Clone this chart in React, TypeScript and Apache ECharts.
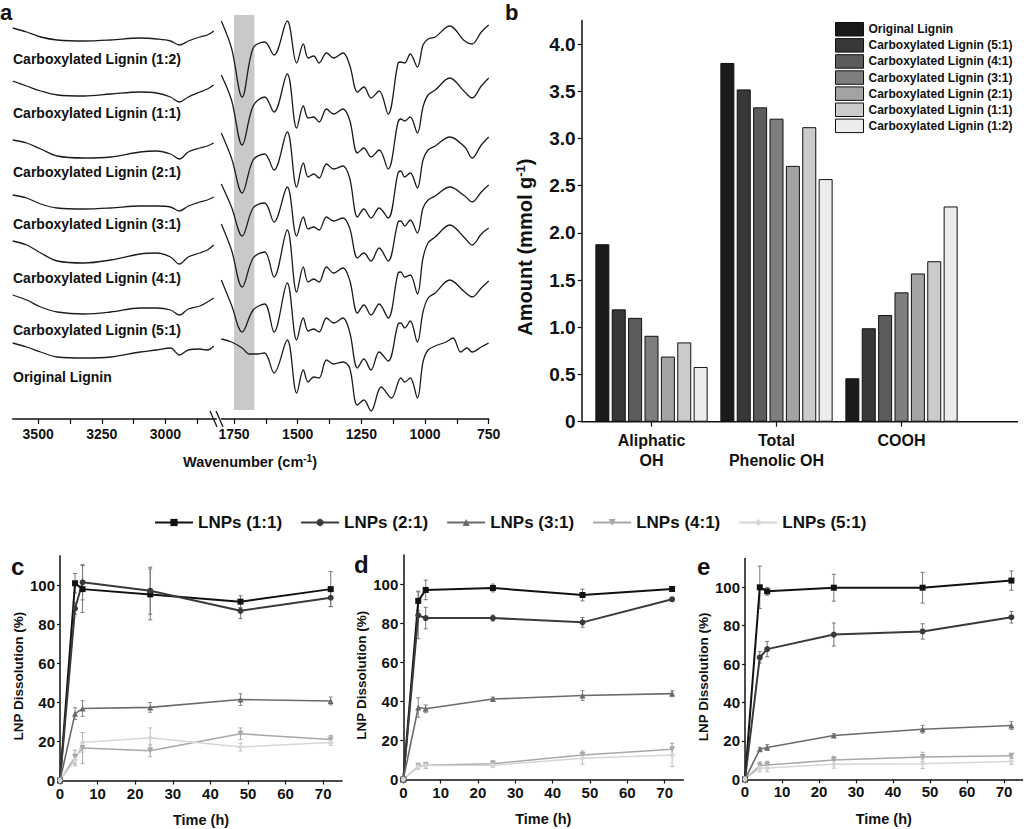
import React, { useEffect, useRef } from 'react';
import * as echarts from 'echarts';

const FONT = '"Liberation Sans", Arial, Helvetica, sans-serif';
const INK = '#111111';

// ---------------- Panel a: FTIR spectra (stacked transmittance, a.u.) ----------------
const leftWavenumbers = [3600, 3545, 3490, 3425, 3320, 3215, 3100, 3035, 2980, 2945, 2910, 2865, 2835, 2810];
const carbWavenumbers = [1800, 1760, 1718, 1675, 1630, 1593, 1541, 1504, 1478, 1459, 1437, 1416, 1387, 1359, 1322, 1296, 1265, 1240, 1212, 1180, 1145, 1106, 1095, 1080, 1058, 1030, 1008, 988, 960, 903, 844, 815, 779, 750];
const origWavenumbers = [1800, 1760, 1718, 1690, 1660, 1630, 1593, 1541, 1504, 1478, 1459, 1437, 1416, 1387, 1359, 1322, 1296, 1266, 1240, 1212, 1172, 1132, 1095, 1080, 1058, 1030, 1008, 988, 960, 918, 890, 860, 835, 815, 779, 750];

const spectrumLabels = [
  'Carboxylated Lignin (1:2)',
  'Carboxylated Lignin (1:1)',
  'Carboxylated Lignin (2:1)',
  'Carboxylated Lignin (3:1)',
  'Carboxylated Lignin (4:1)',
  'Carboxylated Lignin (5:1)',
  'Original Lignin',
];

const cl12Left = [391, 387, 382, 379, 378, 379, 381, 380, 378, 374, 378, 382, 384, 388];
const cl11Left = [338, 333, 328, 324, 323, 325, 327, 326, 322, 317, 322, 327, 330, 334];
const cl21Left = [279, 276, 270, 263, 261, 262, 267, 268, 265, 260, 267, 271, 273, 276];
const cl31Left = [224, 221, 215, 211, 210, 211, 213, 213, 212, 208, 213, 217, 219, 222];
const cl41Left = [178, 174, 166, 158, 156, 159, 165, 166, 162, 155, 162, 166, 169, 174];
const cl51Left = [124, 119, 112, 107, 105, 107, 111, 111, 109, 104, 110, 113, 117, 121];
const origLeft = [76, 72, 67, 62, 61, 62, 67, 69, 71, 64, 69, 70, 69, 73];

const cl12Right = [398, 371, 322, 371, 377, 364, 398, 356, 375, 361, 363, 356, 366, 361, 366, 354, 327, 332, 321, 328, 305, 356, 357, 356, 365, 352, 374, 380, 382, 393, 378, 375, 387, 394];
const cl11Right = [344, 319, 274, 313, 322, 307, 345, 291, 313, 301, 302, 297, 310, 305, 310, 299, 266, 271, 262, 269, 250, 297, 300, 298, 302, 286, 312, 324, 329, 341, 327, 321, 333, 341];
const cl21Right = [286, 261, 226, 259, 265, 249, 287, 232, 256, 242, 245, 241, 255, 250, 253, 241, 202, 210, 201, 211, 201, 246, 248, 242, 246, 231, 259, 269, 273, 282, 272, 261, 274, 282];
const cl31Right = [235, 212, 183, 211, 216, 197, 232, 183, 202, 190, 192, 189, 202, 198, 201, 191, 161, 166, 158, 171, 158, 197, 198, 193, 199, 186, 211, 219, 223, 232, 223, 217, 227, 234];
const cl41Right = [195, 169, 132, 161, 167, 142, 189, 127, 152, 137, 140, 137, 152, 146, 151, 139, 106, 114, 104, 115, 101, 146, 147, 142, 144, 125, 161, 176, 182, 194, 181, 174, 185, 191];
const cl51Right = [139, 114, 87, 109, 115, 87, 136, 79, 101, 88, 90, 87, 101, 96, 101, 87, 51, 60, 49, 67, 58, 95, 96, 91, 98, 77, 107, 121, 126, 139, 127, 122, 131, 138];
const origRight = [80, 77, 71, 65, 65, 66, 46, 79, 26, 49, 37, 42, 41, 59, 55, 57, 51, 14, 19, 8, 32, 21, 41, 37, 41, 21, 57, 69, 73, 77, 81, 67, 71, 67, 72, 76];

const carbonylBand = [1750, 1670];
const leftTicks = [3500, 3375, 3250, 3125, 3000, 2875];
const leftLabels = [3500, 3250, 3000];
const rightTicks = [1750, 1625, 1500, 1375, 1250, 1125, 1000, 875, 750];
const rightLabels = [1750, 1500, 1250, 1000, 750];

// ---------------- Panel b: hydroxyl / carboxyl content ----------------
const groupCategories = ['Aliphatic\nOH', 'Total\nPhenolic OH', 'COOH'];
const ligninSamples = [
  'Original Lignin',
  'Carboxylated Lignin (5:1)',
  'Carboxylated Lignin (4:1)',
  'Carboxylated Lignin (3:1)',
  'Carboxylated Lignin (2:1)',
  'Carboxylated Lignin (1:1)',
  'Carboxylated Lignin (1:2)',
];
const aliphaticOH = [1.88, 1.19, 1.10, 0.91, 0.69, 0.84, 0.58];
const phenolicOH = [3.80, 3.52, 3.33, 3.21, 2.71, 3.12, 2.57];
const carboxylCOOH = [0.46, 0.99, 1.13, 1.37, 1.57, 1.70, 2.28];
const barColors = ['#1a1a1a', '#383838', '#5c5c5c', '#7e7e7e', '#a3a3a3', '#cbcbcb', '#ececec'];
const amountTicks = [0, 0.5, 1, 1.5, 2, 2.5, 3, 3.5, 4];

// ---------------- Panels c, d, e: LNP dissolution ----------------
const timeHours = [0, 4, 6, 24, 48, 72];
const lnpNames = ['LNPs (1:1)', 'LNPs (2:1)', 'LNPs (3:1)', 'LNPs (4:1)', 'LNPs (5:1)'];
const timeTicks = [0, 10, 20, 30, 40, 50, 60, 70];
const dissolutionTicks = [0, 20, 40, 60, 80, 100];

const c11 = [0, 100.9, 97.9, 95.2, 91.5, 97.9];
const c21 = [0, 88.0, 101.4, 97.1, 86.8, 93.5];
const c31 = [0, 34.2, 36.8, 37.4, 41.4, 40.7];
const c41 = [0, 12.0, 16.6, 15.2, 23.9, 21.0];
const c51 = [0, 10.5, 19.5, 21.9, 17.1, 19.5];
const c11Err = [0, 5, 12, 13, 3, 9];
const c21Err = [0, 3, 9, 12, 4, 4.5];
const c31Err = [0, 3, 4, 2.5, 3, 2];
const c41Err = [0, 3.5, 8, 3, 3, 2];
const c51Err = [0, 3, 5, 5, 2, 1.5];

const d11 = [0, 91.5, 97.1, 98.1, 94.5, 97.6];
const d21 = [0, 84.1, 82.7, 82.7, 80.5, 92.3];
const d31 = [0, 36.9, 36.2, 41.2, 43.0, 44.0];
const d41 = [0, 6.8, 7.3, 8.1, 12.6, 15.5];
const d51 = [0, 6.5, 7.2, 7.3, 10.9, 12.6];
const d11Err = [0, 5, 5, 2, 3, 1];
const d21Err = [0, 12, 5.5, 1.5, 2.5, 1];
const d31Err = [0, 5, 2, 1, 2.5, 1.5];
const d41Err = [0, 1.5, 1.5, 1.5, 2, 3];
const d51Err = [0, 1, 1.5, 1, 3, 6];

const e11 = [0, 100.0, 97.9, 99.8, 99.8, 103.5];
const e21 = [0, 63.5, 67.8, 75.4, 77.0, 84.4];
const e31 = [0, 15.6, 16.6, 22.8, 26.1, 28.0];
const e41 = [0, 7.1, 7.4, 10.0, 11.6, 12.3];
const e51 = [0, 5.9, 5.9, 7.8, 8.1, 9.3];
const e11Err = [0, 11, 2, 7, 8, 5];
const e21Err = [0, 3, 4, 6, 4, 3];
const e31Err = [0, 1, 1.5, 1, 2, 2];
const e41Err = [0, 2, 2, 2, 2.5, 1];
const e51Err = [0, 2, 2, 2, 2.5, 1.5];

const lnpColors = ['#111111', '#3a3a3a', '#6b6b6b', '#a8a8a8', '#d6d6d6'];
const lnpSymbols = ['rect', 'circle', 'triangle', 'path://M0,0L10,0L5,9Z', 'diamond'];
const lnpLineWidths = [2, 2, 1.6, 1.5, 1.5];
const errColors = ['#777777', '#777777', '#888888', '#aaaaaa', '#bbbbbb'];

function buildOption() {
  const boldText = (size: number) => ({ color: INK, fontWeight: 'bold', fontSize: size, fontFamily: FONT });
  const plain = (v: number) => String(v);

  const specLine = (name: string, axis: number, xs: number[], ys: number[], extra: any = {}) => ({
    type: 'line',
    name,
    xAxisIndex: axis,
    yAxisIndex: axis,
    data: xs.map((w, i) => [w, ys[i]]),
    showSymbol: false,
    symbol: 'none',
    smooth: 0.35,
    silent: true,
    lineStyle: { color: '#1c1c1c', width: 1.3 },
    ...extra,
  });

  const leftSets = [cl12Left, cl11Left, cl21Left, cl31Left, cl41Left, cl51Left, origLeft];
  const rightSets = [cl12Right, cl11Right, cl21Right, cl31Right, cl41Right, cl51Right];

  const series: any[] = [];
  leftSets.forEach((ys, k) => series.push(specLine('ftirL' + k, 0, leftWavenumbers, ys)));
  rightSets.forEach((ys, k) =>
    series.push(
      specLine('ftirR' + k, 1, carbWavenumbers, ys,
        k === 0
          ? {
              markArea: {
                silent: true,
                itemStyle: { color: '#c9c9c9' },
                data: [[{ xAxis: carbonylBand[0], yAxis: 9 }, { xAxis: carbonylBand[1], yAxis: 404 }]],
              },
            }
          : {})
    )
  );
  series.push(specLine('ftirR6', 1, origWavenumbers, origRight));

  // bars
  ligninSamples.forEach((name, i) => {
    series.push({
      type: 'bar',
      name,
      xAxisIndex: 2,
      yAxisIndex: 2,
      data: [aliphaticOH[i], phenolicOH[i], carboxylCOOH[i]],
      barWidth: 14,
      barGap: '17%',
      itemStyle: { color: barColors[i], borderColor: '#111111', borderWidth: 1 },
    });
  });

  // dissolution panels
  const panels = [
    { axis: 3, means: [c11, c21, c31, c41, c51], errs: [c11Err, c21Err, c31Err, c41Err, c51Err] },
    { axis: 4, means: [d11, d21, d31, d41, d51], errs: [d11Err, d21Err, d31Err, d41Err, d51Err] },
    { axis: 5, means: [e11, e21, e31, e41, e51], errs: [e11Err, e21Err, e31Err, e41Err, e51Err] },
  ];
  panels.forEach((p) => {
    const errData: number[][] = [];
    p.means.forEach((m, s) => {
      timeHours.forEach((t, i) => errData.push([t, m[i], p.errs[s][i], s]));
    });
    series.push({
      type: 'custom',
      name: 'errorbars' + p.axis,
      xAxisIndex: p.axis,
      yAxisIndex: p.axis,
      silent: true,
      z: 1,
      encode: { x: 0, y: 1 },
      data: errData,
      renderItem: (params: any, api: any) => {
        const t = api.value(0);
        const v = api.value(1);
        const e = api.value(2);
        const s = api.value(3);
        if (!e) return null;
        const top = api.coord([t, v + e]);
        const bot = api.coord([t, v - e]);
        const cap = 2;
        const st = { stroke: errColors[s], lineWidth: 1 };
        return {
          type: 'group',
          children: [
            { type: 'line', shape: { x1: top[0], y1: top[1], x2: bot[0], y2: bot[1] }, style: st },
            { type: 'line', shape: { x1: top[0] - cap, y1: top[1], x2: top[0] + cap, y2: top[1] }, style: st },
            { type: 'line', shape: { x1: bot[0] - cap, y1: bot[1], x2: bot[0] + cap, y2: bot[1] }, style: st },
          ],
        };
      },
    });
    p.means.forEach((m, s) => {
      series.push({
        type: 'line',
        name: lnpNames[s],
        xAxisIndex: p.axis,
        yAxisIndex: p.axis,
        data: timeHours.map((t, i) => [t, m[i]]),
        symbol: lnpSymbols[s],
        symbolSize: 6,
        showSymbol: true,
        z: 3,
        lineStyle: { color: lnpColors[s], width: lnpLineWidths[s] },
        itemStyle: { color: lnpColors[s] },
      });
    });
  });

  const lnpGrids = [
    { left: 60, top: 555.7, width: 282, height: 224.8 },
    { left: 403.3, top: 555, width: 280, height: 224.5 },
    { left: 745, top: 558.5, width: 277.5, height: 220.8 },
  ];

  const lnpX = (gi: number) => ({
    gridIndex: gi,
    type: 'value',
    min: 0,
    max: 75,
    axisLine: { show: true, lineStyle: { color: INK, width: 1.5 } },
    axisTick: { show: true, length: 4, lineStyle: { color: INK, width: 1.2 }, customValues: timeTicks },
    axisLabel: { ...boldText(15), margin: 5, customValues: timeTicks, formatter: plain },
    splitLine: { show: false },
    name: 'Time (h)',
    nameLocation: 'middle',
    nameGap: 32,
    nameTextStyle: boldText(14.5),
  });
  const lnpY = (gi: number) => ({
    gridIndex: gi,
    type: 'value',
    min: 0,
    max: 115,
    axisLine: { show: true, lineStyle: { color: INK, width: 1.5 } },
    axisTick: { show: true, length: 3, lineStyle: { color: INK, width: 1.2 }, customValues: dissolutionTicks },
    axisLabel: { ...boldText(15), margin: 5, customValues: dissolutionTicks, formatter: plain },
    splitLine: { show: false },
    name: 'LNP Dissolution (%)',
    nameLocation: 'middle',
    nameGap: 35,
    nameTextStyle: { ...boldText(13.5), padding: [0, 16, 0, 0] },
  });

  const txt = (text: string, x: number, y: number, size: number, align = 'left', vAlign = 'middle', extra: any = {}) => ({
    type: 'text',
    x,
    y,
    silent: true,
    style: {
      text,
      fill: INK,
      fontSize: size,
      fontWeight: 'bold',
      fontFamily: FONT,
      align,
      verticalAlign: vAlign,
      textAlign: align,
      textVerticalAlign: vAlign,
      ...extra,
    },
  });

  const labelYs = [59, 113.3, 171.7, 224.3, 278.3, 330, 376.7];

  const graphics: any[] = [
    txt('a', 0, 12, 22),
    txt('b', 505, 12, 22),
    txt('c', 11, 566, 24),
    txt('d', 354, 564, 24),
    txt('e', 697, 566, 24),
    ...spectrumLabels.map((s, i) => txt(s, 13, labelYs[i], 14)),
    txt('Wavenumber (cm{sup|-1})', 250, 462, 14.5, 'center', 'middle', {
      rich: { sup: { fontSize: 10, fontWeight: 'bold', fontFamily: FONT, fill: INK, padding: [0, 0, 7, 0] } },
    }),
    { type: 'line', silent: true, shape: { x1: 210, y1: 411, x2: 217, y2: 427 }, style: { stroke: INK, lineWidth: 1.2 } },
    { type: 'line', silent: true, shape: { x1: 216, y1: 411, x2: 223, y2: 427 }, style: { stroke: INK, lineWidth: 1.2 } },
    { type: 'line', silent: true, shape: { x1: 581.7, y1: 421.7, x2: 1018, y2: 421.7 }, style: { stroke: INK, lineWidth: 1.5 } },
  ];

  return {
    animation: false,
    backgroundColor: '#ffffff',
    textStyle: { fontFamily: FONT },
    grid: [
      { left: 12.7, top: 15, width: 203.6, height: 404 },
      { left: 221.3, top: 15, width: 267.4, height: 404 },
      { left: 589, top: 20.5, width: 375, height: 401.2 },
      ...lnpGrids,
    ],
    xAxis: [
      {
        gridIndex: 0,
        type: 'value',
        min: 2800,
        max: 3600,
        inverse: true,
        axisLine: { show: true, lineStyle: { color: INK, width: 1.5 } },
        axisTick: { show: true, length: 5, lineStyle: { color: INK, width: 1.2 }, customValues: leftTicks },
        axisLabel: { ...boldText(14), margin: 8, customValues: leftLabels, formatter: plain },
        splitLine: { show: false },
      },
      {
        gridIndex: 1,
        type: 'value',
        min: 750,
        max: 1800,
        inverse: true,
        axisLine: { show: true, lineStyle: { color: INK, width: 1.5 } },
        axisTick: { show: true, length: 5, lineStyle: { color: INK, width: 1.2 }, customValues: rightTicks },
        axisLabel: { ...boldText(14), margin: 8, customValues: rightLabels, formatter: plain },
        splitLine: { show: false },
      },
      {
        gridIndex: 2,
        type: 'category',
        data: groupCategories,
        axisLine: { show: false },
        axisTick: { show: true, alignWithLabel: true, length: 5, lineStyle: { color: INK, width: 1.2 } },
        axisLabel: { ...boldText(16), lineHeight: 20, margin: 9 },
      },
      lnpX(3),
      lnpX(4),
      lnpX(5),
    ],
    yAxis: [
      { gridIndex: 0, type: 'value', min: 0, max: 404, show: false },
      { gridIndex: 1, type: 'value', min: 0, max: 404, show: false },
      {
        gridIndex: 2,
        type: 'value',
        min: 0,
        max: 4.25,
        offset: 7.3,
        axisLine: { show: true, lineStyle: { color: INK, width: 1.5 } },
        axisTick: { show: true, length: 4, lineStyle: { color: INK, width: 1.2 }, customValues: amountTicks },
        axisLabel: {
          ...boldText(19),
          margin: 6,
          customValues: amountTicks,
          formatter: (v: number) => (v === 0 ? '0' : v.toFixed(1)),
        },
        splitLine: { show: false },
        name: 'Amount (mmol g{sup|-1})',
        nameLocation: 'middle',
        nameGap: 46,
        nameTextStyle: {
          ...boldText(20),
          padding: [0, 52, 0, 0],
          rich: { sup: { fontSize: 13, fontWeight: 'bold', fontFamily: FONT, color: INK, padding: [0, 0, 9, 0] } },
        },
      },
      lnpY(3),
      lnpY(4),
      lnpY(5),
    ],
    legend: [
      {
        data: ligninSamples,
        orient: 'vertical',
        left: 835,
        top: 22,
        padding: 0,
        itemWidth: 28,
        itemHeight: 13.5,
        itemGap: 1.6,
        icon: 'rect',
        selectedMode: false,
        itemStyle: { borderColor: '#111111', borderWidth: 1 },
        textStyle: { ...boldText(12), lineHeight: 14 },
      },
      {
        data: lnpNames,
        left: 154,
        top: 514,
        padding: 0,
        itemWidth: 38,
        itemHeight: 9,
        itemGap: 18,
        selectedMode: false,
        textStyle: boldText(17),
      },
    ],
    graphic: { elements: graphics },
    series,
  };
}

export default function App() {
  const ref = useRef<HTMLDivElement>(null);
  useEffect(() => {
    if (!ref.current) return;
    const chart = echarts.init(ref.current, null, { renderer: 'svg' });
    chart.setOption(buildOption() as any);
    return () => chart.dispose();
  }, []);
  return (
    <div
      ref={ref}
      style={{ position: 'absolute', left: 0, top: 0, width: 1024, height: 829, background: '#fff' }}
    />
  );
}
